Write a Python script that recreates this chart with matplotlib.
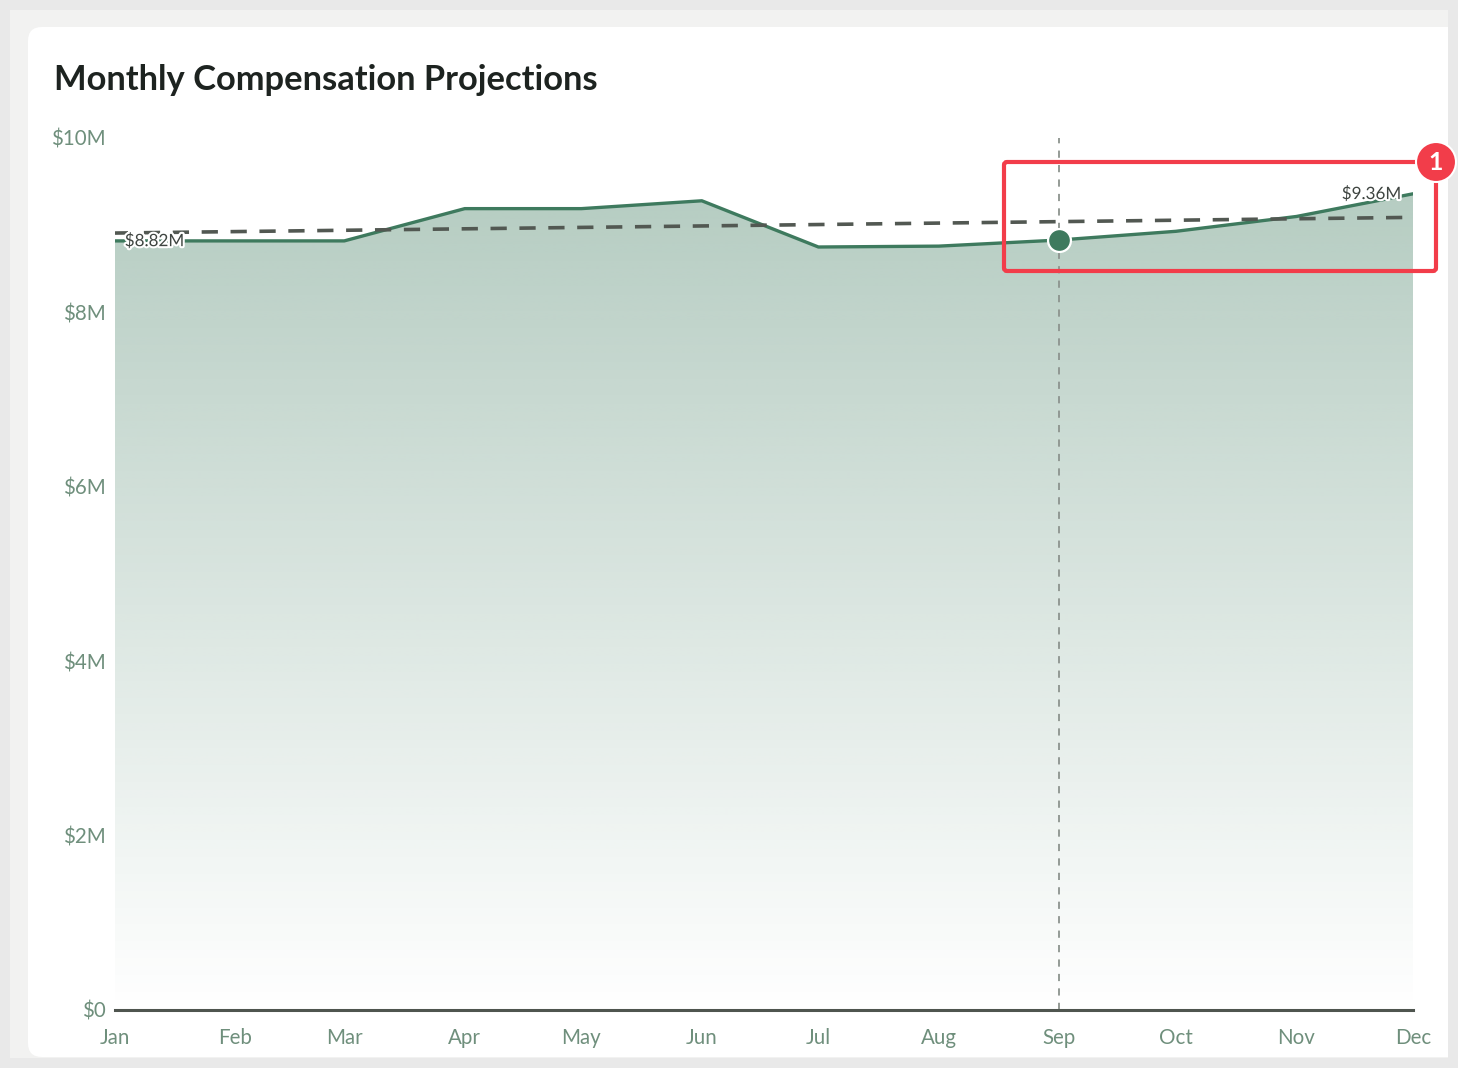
import numpy as np
import matplotlib
matplotlib.use("Agg")
import matplotlib.pyplot as plt
from matplotlib.patches import FancyBboxPatch, Circle, Rectangle
from matplotlib.transforms import Affine2D
import matplotlib.patheffects as pe
from matplotlib.path import Path
from matplotlib.patches import PathPatch

plt.rcParams['font.family'] = ['Lato', 'DejaVu Sans']

# data
months = ['Jan', 'Feb', 'Mar', 'Apr', 'May', 'Jun', 'Jul', 'Aug', 'Sep', 'Oct', 'Nov', 'Dec']
month_day = [0, 31, 59, 90, 120, 151, 181, 212, 243, 273, 304, 334]  # day offset of the 1st of each month
comp = [8.82, 8.82, 8.82, 9.19, 9.19, 9.28, 8.75, 8.76, 8.83, 8.93, 9.10, 9.36]  # $M
trend = [8.91, 9.09]  # dashed trend, Jan -> Dec
y_ticks = [0, 2, 4, 6, 8, 10]
y_labels = ['$0', '$2M', '$4M', '$6M', '$8M', '$10M']
highlight = 'Sep'

W, H = 1458, 1068
GREEN = '#3e7a5e'
TICK = '#6f8f7c'

fig = plt.figure(figsize=(W / 100, H / 100), dpi=100, facecolor='#e9e9e9')
# pixel coordinates, origin at top-left
px = Affine2D().scale(1 / W, -1 / H).translate(0, 1) + fig.transFigure

# page / card backgrounds
fig.add_artist(Rectangle((10, 10), 1438, 1048, transform=px, facecolor='#f2f2f1', edgecolor='none', zorder=-3))
fig.add_artist(FancyBboxPatch((28, 27), 1420, 1030, boxstyle='round,pad=0,rounding_size=14',
                              transform=px, facecolor='white', edgecolor='none', zorder=-2))
fig.add_artist(Rectangle((1400, 27), 48, 30, transform=px, facecolor='white', edgecolor='none', zorder=-2))
fig.add_artist(Rectangle((1400, 1040), 48, 17, transform=px, facecolor='white', edgecolor='none', zorder=-2))

fig.text(54 / W, 1 - 80 / H, 'Monthly Compensation Projections', fontsize=24.8, fontweight='bold',
         color='#1d2320', va='center', ha='left')

ax = fig.add_axes([115 / W, (H - 1010) / H, 1298 / W, 872 / H])
ax.set_facecolor('none')
ax.set_xlim(month_day[0], month_day[-1])
ax.set_ylim(0, 10)

x = np.array(month_day, dtype=float)
y = np.array(comp)

# gradient fill under the line
ymax = y.max()
grad = np.zeros((256, 2, 4))
rgb = matplotlib.colors.to_rgb(GREEN)
grad[:, :, :3] = rgb
grad[:, :, 3] = np.linspace(0.38, 0.0, 256)[:, None]
img = ax.imshow(grad, extent=[x[0], x[-1], 0, ymax], aspect='auto', origin='upper', zorder=1,
                interpolation='bilinear')
verts = [(x[0], 0)] + list(zip(x, y)) + [(x[-1], 0), (x[0], 0)]
codes = [Path.MOVETO] + [Path.LINETO] * (len(verts) - 2) + [Path.CLOSEPOLY]
clip = PathPatch(Path(verts, codes), transform=ax.transData, facecolor='none', edgecolor='none')
ax.add_patch(clip)
img.set_clip_path(clip)

ax.plot(x, y, color=GREEN, lw=2.4, zorder=3, solid_capstyle='round')
ax.plot([x[0], x[-1]], trend, color='#525852', lw=2.6, dashes=(4.5, 3.5), zorder=4)

# highlight marker and vertical guide
hi = months.index(highlight)
ax.axvline(x[hi], ymin=0, ymax=1, color='#8c938e', lw=1.3, dashes=(4, 4), zorder=2)
ax.plot(x[hi], y[hi], 'o', ms=16.5, color=GREEN, mec='white', mew=1.6, zorder=5)

stroke = [pe.withStroke(linewidth=3, foreground='white')]
ax.text(x[0] + 2.5, y[0], f'${y[0]:.2f}M', fontsize=12.3, color='#3f4541', va='center', ha='left',
        path_effects=stroke, zorder=6)
ax.text(x[-1] - 3, y[-1], f'${y[-1]:.2f}M', fontsize=12.3, color='#3f4541', va='center', ha='right',
        path_effects=stroke, zorder=6)

# axes styling
for s in ['top', 'right', 'left']:
    ax.spines[s].set_visible(False)
ax.spines['bottom'].set_color('#4f554f')
ax.spines['bottom'].set_linewidth(2.2)
ax.spines['bottom'].set_zorder(6)
ax.set_xticks(month_day)
ax.set_xticklabels(months)
ax.set_yticks(y_ticks)
ax.set_yticklabels(y_labels)
ax.tick_params(axis='both', length=0, labelsize=14.8, labelcolor=TICK)
ax.tick_params(axis='x', pad=13)
ax.tick_params(axis='y', pad=6.5)
for lab in ax.get_yticklabels() + ax.get_xticklabels():
    lab.set_clip_on(False)

# red callout box
fig.add_artist(FancyBboxPatch((1004, 162), 432, 109, boxstyle='round,pad=0,rounding_size=3',
                              transform=px, facecolor='none', edgecolor='#f23d4a', lw=3, zorder=10))
fig.add_artist(Circle((1436, 162), 20, transform=px, facecolor='#f23d4a', edgecolor='white',
                      lw=1.5, zorder=11))
fig.text(1436 / W, 1 - 162 / H, '1', fontsize=18, fontweight='bold', color='white',
         ha='center', va='center', zorder=12)

fig.savefig('out.png', dpi=100, facecolor=fig.get_facecolor())
